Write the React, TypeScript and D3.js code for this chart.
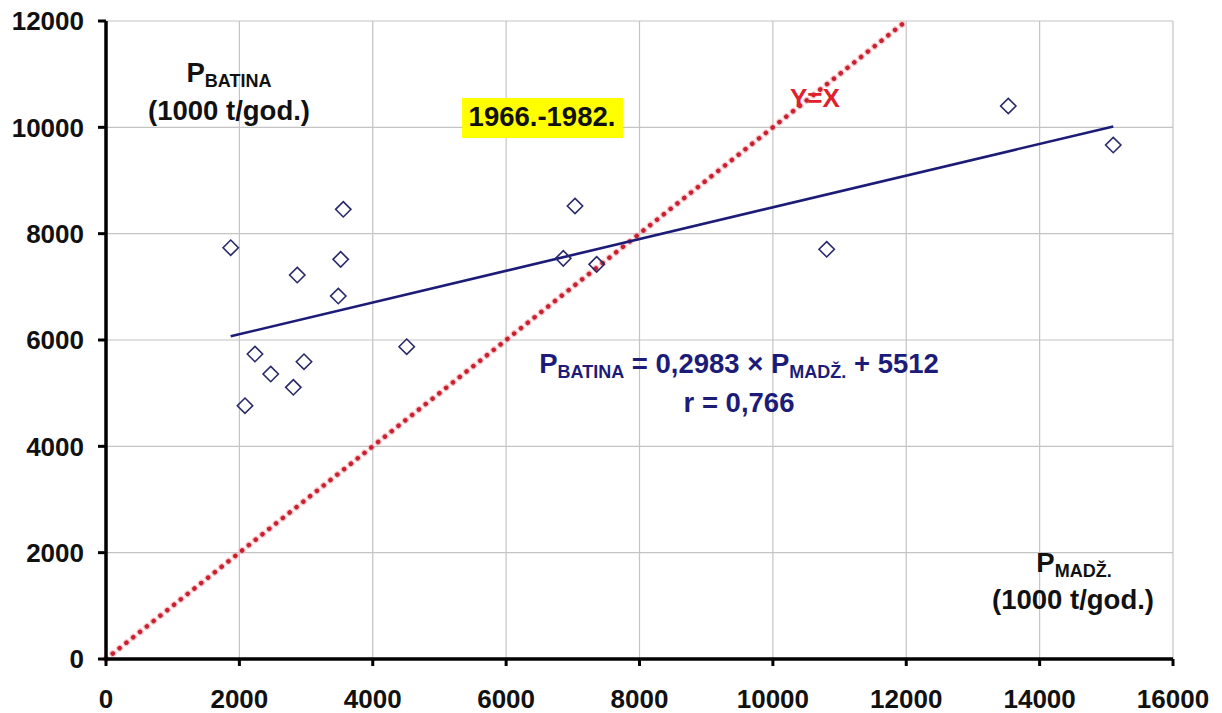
import React from "react";
import * as d3 from "d3";

// Data (1000 t/god.)
const pMadz = [3558, 1870, 7033, 3519, 2868, 3483, 6857, 7358, 4509, 2234, 2969, 2470, 2809, 2084, 10807, 13530, 15104];
const pBatina = [8458, 7736, 8520, 7517, 7222, 6827, 7536, 7423, 5874, 5736, 5592, 5360, 5110, 4764, 7706, 10401, 9667];
const slope = 0.2983;
const intercept = 5512;
const xTicks = [0, 2000, 4000, 6000, 8000, 10000, 12000, 14000, 16000];
const yTicks = [0, 2000, 4000, 6000, 8000, 10000, 12000];

const W = 1222;
const H = 713;
const FONT = "'Liberation Sans', Arial, Helvetica, sans-serif";
const NAVY = "#1c1c78";

export default function App() {
  const x = d3.scaleLinear().domain([0, 16000]).range([106, 1173]);
  const y = d3.scaleLinear().domain([0, 12000]).range([659, 21]);

  const pts = pMadz.map((v, i) => ({ x: v, y: pBatina[i] }));
  const xmin = d3.min(pMadz) as number;
  const xmax = d3.max(pMadz) as number;
  const regLine = d3.line<[number, number]>().x((d) => x(d[0])).y((d) => y(d[1]))([
    [xmin, slope * xmin + intercept],
    [xmax, slope * xmax + intercept],
  ]);
  const idLine = d3.line<[number, number]>().x((d) => x(d[0])).y((d) => y(d[1]))([
    [0, 0],
    [12000, 12000],
  ]);
  const diamond = d3.symbol().type(d3.symbolDiamond2).size(150)();

  return (
    <svg
      width={W}
      height={H}
      style={{ position: "absolute", left: 0, top: 0, background: "#fff" }}
      fontFamily={FONT}
      fontWeight="bold"
    >
      {/* grid */}
      {xTicks.filter((t) => t > 0).map((t) => (
        <line key={"gx" + t} x1={x(t)} x2={x(t)} y1={y(0)} y2={y(12000)} stroke="#c4c4c4" strokeWidth={1.2} />
      ))}
      {yTicks.filter((t) => t > 0).map((t) => (
        <line key={"gy" + t} x1={x(0)} x2={x(16000)} y1={y(t)} y2={y(t)} stroke="#c4c4c4" strokeWidth={1.2} />
      ))}

      {/* Y = X dotted line */}
      <path d={idLine || ""} fill="none" stroke="#f4a0a8" strokeWidth={7} strokeDasharray="0.1 8.6" strokeLinecap="round" opacity={0.6} />
      <path d={idLine || ""} fill="none" stroke="#c8202e" strokeWidth={4.5} strokeDasharray="0.1 8.6" strokeLinecap="round" />

      {/* regression line */}
      <path d={regLine || ""} fill="none" stroke={NAVY} strokeWidth={2.6} />

      {/* points */}
      {pts.map((p, i) => (
        <path
          key={"p" + i}
          d={diamond || ""}
          transform={`translate(${x(p.x)},${y(p.y)})`}
          fill="none"
          stroke="#2a2a6a"
          strokeWidth={1.6}
        />
      ))}

      {/* axes */}
      <line x1={x(0)} x2={x(16000)} y1={y(0)} y2={y(0)} stroke="#000" strokeWidth={3.5} />
      <line x1={x(0)} x2={x(0)} y1={y(0)} y2={y(12000)} stroke="#000" strokeWidth={3.5} />
      {xTicks.map((t) => (
        <g key={"tx" + t}>
          <line x1={x(t)} x2={x(t)} y1={y(0)} y2={y(0) + 7} stroke="#000" strokeWidth={3} />
          <text x={x(t)} y={708} textAnchor="middle" fontSize={26} fill="#111">
            {t}
          </text>
        </g>
      ))}
      {yTicks.map((t) => (
        <g key={"ty" + t}>
          <line x1={x(0) - 8} x2={x(0)} y1={y(t)} y2={y(t)} stroke="#000" strokeWidth={3} />
          <text x={84} y={y(t)} dy="0.36em" textAnchor="end" fontSize={26} fill="#111">
            {t}
          </text>
        </g>
      ))}

      {/* axis titles */}
      <text x={229} y={82} textAnchor="middle" fontSize={27.5} fill="#111">
        <tspan>P</tspan>
        <tspan fontSize={18} dy={5}>BATINA</tspan>
      </text>
      <text x={229} y={120} textAnchor="middle" fontSize={27.5} fill="#111">
        (1000 t/god.)
      </text>
      <text x={1074} y={572} textAnchor="middle" fontSize={27.5} fill="#111">
        <tspan>P</tspan>
        <tspan fontSize={18} dy={5}>MADŽ.</tspan>
      </text>
      <text x={1073} y={609} textAnchor="middle" fontSize={27.5} fill="#111">
        (1000 t/god.)
      </text>

      {/* period label */}
      <rect x={462} y={98} width={161} height={40} fill="#ffff00" />
      <text x={542} y={126} textAnchor="middle" fontSize={27.5} fill="#111">
        1966.-1982.
      </text>

      {/* Y=X label */}
      <text x={790} y={107} fontSize={26} fill="#e0202a">
        Y=X
      </text>

      {/* equation */}
      <text x={739} y={373} textAnchor="middle" fontSize={27.5} fill={NAVY}>
        <tspan>P</tspan>
        <tspan fontSize={18} dy={5}>BATINA</tspan>
        <tspan dy={-5}>{" = 0,2983 × P"}</tspan>
        <tspan fontSize={18} dy={5}>MADŽ.</tspan>
        <tspan dy={-5}>{" + 5512"}</tspan>
      </text>
      <text x={739} y={412} textAnchor="middle" fontSize={27.5} fill={NAVY}>
        r = 0,766
      </text>
    </svg>
  );
}
